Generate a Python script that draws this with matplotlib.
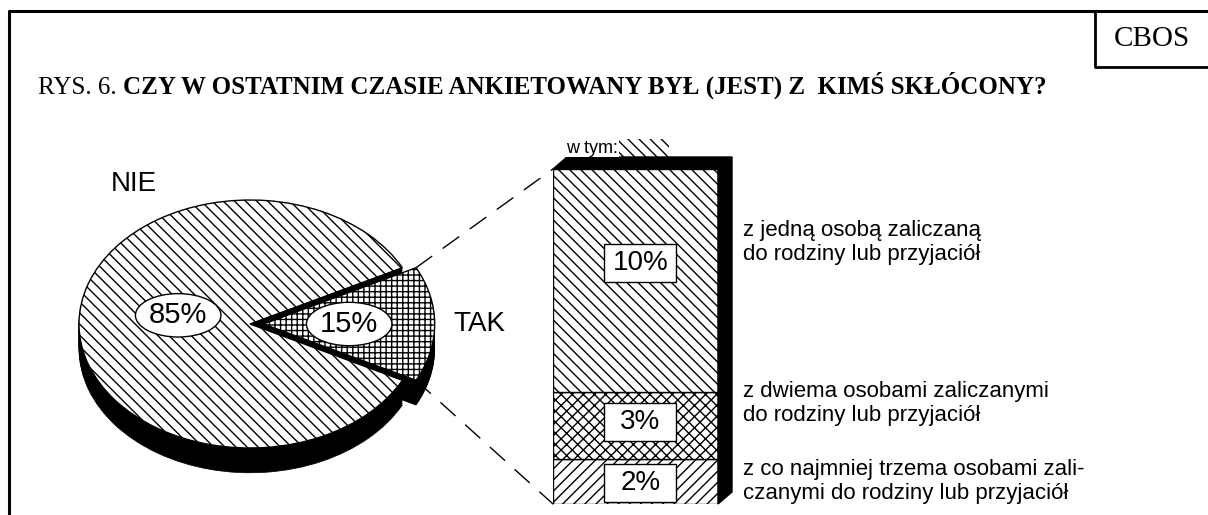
import numpy as np
import matplotlib
matplotlib.use("Agg")
import matplotlib.pyplot as plt
from matplotlib.patches import Rectangle, Ellipse, Polygon, ConnectionPatch

plt.rcParams['font.family'] = ['Liberation Sans', 'DejaVu Sans']
plt.rcParams['hatch.linewidth'] = 1.0

# dane
title_prefix = "RYS. 6. "
title_main = "CZY W OSTATNIM CZASIE ANKIETOWANY BYŁ (JEST) Z  KIMŚ SKŁÓCONY?"
pie_labels = ["TAK", "NIE"]
pie_values = [15, 85]
pie_pct = ["15%", "85%"]
bar_values = [2, 3, 10]          # od dolu slupka
bar_pct = ["2%", "3%", "10%"]
bar_desc = ["z co najmniej trzema osobami zali-\nczanymi do rodziny lub przyjaciół",
            "z dwiema osobami zaliczanymi\ndo rodziny lub przyjaciół",
            "z jedną osobą zaliczaną\ndo rodziny lub przyjaciół"]

W, H = 1208, 515
fig = plt.figure(figsize=(W / 100, H / 100), dpi=100)


def px_axes(left, top, width, height):
    # osie podane w pikselach obrazka (od gory)
    return fig.add_axes([left / W, 1 - (top + height) / H, width / W, height / H])


# tlo: ramka, tytul, CBOS
bg = fig.add_axes([0, 0, 1, 1])
bg.set_xlim(0, W)
bg.set_ylim(H, 0)
bg.axis('off')
bg.plot([9, 9, 1212], [530, 11, 11], color='black', lw=2.2, clip_on=False)
bg.plot([1095, 1095, 1212], [11, 67, 67], color='black', lw=2.0, clip_on=False)
bg.text(1152, 39, "CBOS", family='Liberation Serif', fontsize=21, ha='center', va='center')

t1 = bg.text(38, 94, title_prefix, family='Liberation Serif', fontsize=18, va='baseline')
fig.canvas.draw()
w1 = t1.get_window_extent().width
bg.text(38 + w1, 94, title_main, family='Liberation Serif', fontsize=18,
        fontweight='bold', va='baseline')

# wykres kolowy "3D"
cx, cy, rx, ry = 250, 324, 171, 124
pax = px_axes(cx - 1.3 * rx, cy - 1.4 * ry, 2.8 * rx, 2.8 * ry)
explode = [0.08, 0]
depth = 0.2
for k in np.linspace(depth, 0.01, 14):
    pax.pie(pie_values, explode=explode, startangle=-27, center=(0, -k),
            colors=['black', 'black'], wedgeprops=dict(linewidth=0.5, edgecolor='black'))
wedges, _ = pax.pie(pie_values, explode=explode, startangle=-27, colors=['white', 'white'],
                    wedgeprops=dict(linewidth=1, edgecolor='black'))
wedges[0].set_hatch('+++')
wedges[1].set_hatch('\\\\\\')
pax.set_xlim(-1.3, 1.5)
pax.set_ylim(-1.4, 1.4)
pax.set_aspect('auto')
pax.axis('off')

for w, txt, r in zip(wedges, pie_pct, [0.5, 0.42]):
    th = np.deg2rad((w.theta1 + w.theta2) / 2)
    x = w.center[0] + r * np.cos(th)
    y = w.center[1] + r * np.sin(th) + (0.07 if txt == "85%" else 0)
    pax.add_patch(Ellipse((x, y), 0.5, 0.35, facecolor='white', edgecolor='black', lw=1, zorder=5))
    pax.text(x, y, txt, fontsize=21, ha='center', va='center', zorder=6)

th = np.deg2rad((wedges[0].theta1 + wedges[0].theta2) / 2)
pax.text(wedges[0].center[0] + 1.26 * np.cos(th), 1.26 * np.sin(th), pie_labels[0],
         fontsize=20, ha='center', va='center')
pax.text(-0.68, 1.13, pie_labels[1], fontsize=20, ha='center', va='center')

# slupek "w tym"
bax = px_axes(553, 169, 165, 335)
total = sum(bar_values)
bax.set_xlim(0, 1)
bax.set_ylim(0, total)
bax.axis('off')
bottoms = np.cumsum([0] + bar_values[:-1])
bars = bax.bar(0.5, bar_values, width=1, bottom=bottoms, color='white',
               edgecolor='black', linewidth=1)
for b, h in zip(bars, ['///', 'xxx', '\\\\\\']):
    b.set_hatch(h)

dx, dy = 14 / 165, 12 / (335 / total)
bax.add_patch(Polygon([(1, 0), (1 + dx, dy), (1 + dx, total + dy), (1, total)],
                      closed=True, color='black', clip_on=False))
bax.add_patch(Polygon([(0, total), (dx, total + dy), (1 + dx, total + dy), (1, total)],
                      closed=True, color='black', clip_on=False))

# kreskowanie nad slupkiem i "w tym:"
bax.add_patch(Rectangle((0.2, total + dy), 0.5, 0.8, facecolor='none', edgecolor='black',
                        linewidth=0, hatch='\\\\\\', clip_on=False, zorder=0))
bax.text(0.08, total + dy + 0.2, "w tym:", fontsize=13, va='baseline',
         bbox=dict(boxstyle='square,pad=0.05', fc='white', ec='none'), zorder=3)

box_w, box_h = 72 / 165, 38 / (335 / total)
label_frac = [0.47, 0.55, 0.58]
desc_y = [1.0, 4.5, 11.7]
for b0, v, txt, fr, desc, yd in zip(bottoms, bar_values, bar_pct, label_frac, bar_desc, desc_y):
    yc = b0 + v * fr
    bax.add_patch(Rectangle((0.53 - box_w / 2, yc - box_h / 2), box_w, box_h,
                            facecolor='white', edgecolor='black', lw=1, zorder=4))
    bax.text(0.53, yc, txt, fontsize=20, ha='center', va='center', zorder=5)
    bax.text(1.15, yd, desc, fontsize=16, ha='left', va='center', linespacing=1.2)

# linie przerywane od wycinka TAK do slupka
tak = wedges[0]
for ang, yb in [(tak.theta2, total), (tak.theta1, 0)]:
    a = np.deg2rad(ang)
    xa = (tak.center[0] + np.cos(a), tak.center[1] + np.sin(a))
    con = ConnectionPatch(xyA=xa, coordsA=pax.transData, xyB=(0, yb), coordsB=bax.transData,
                          linestyle=(0, (14, 10)), color='black', lw=1)
    fig.add_artist(con)

fig.savefig("out.png", dpi=100, facecolor='white')
